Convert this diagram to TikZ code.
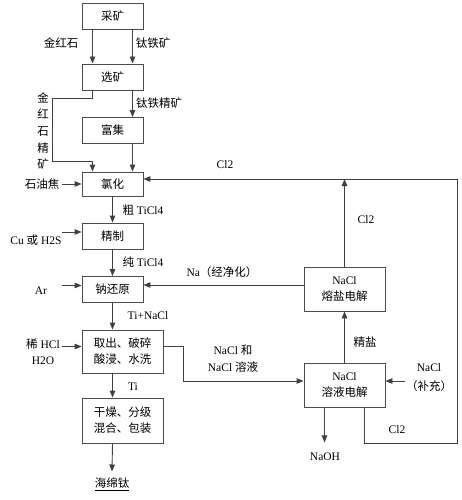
\documentclass[tikz,border=0pt]{standalone}
\usepackage{fontspec}
\setmainfont{Liberation Serif}
\newfontfamily\cjk{Noto Sans CJK SC}
\usetikzlibrary{positioning,calc,arrows.meta}

\tikzset{
  procbox/.style={draw=black!70, line width=0.9pt, minimum width=61pt, minimum height=26pt, inner sep=1pt, align=center},
  widebox/.style={procbox, minimum width=81pt, minimum height=44pt},
  arr/.style={draw=black!75, line width=0.9pt, -{Triangle[length=7pt,width=5.5pt]}},
  line/.style={draw=black!75, line width=0.9pt},
  lbl/.style={inner sep=0pt, align=center}
}

\begin{document}
\begin{tikzpicture}[x=1pt, y=-1pt, font=\fontsize{11.5}{16}\selectfont]
    \useasboundingbox (0,0) rectangle (462,500);

    % Main column
    \node [procbox] (caikuang) at (112.5,16) {\cjk 采矿};
    \node [procbox] (xuankuang) at (112.5,77) {\cjk 选矿};
    \node [procbox] (fuji) at (112.5,130.5) {\cjk 富集};
    \node [procbox, minimum height=24pt] (lvhua) at (112.5,184) {\cjk 氯化};
    \node [procbox] (jingzhi) at (112.5,236) {\cjk 精制};
    \node [procbox] (naReduce) at (112.5,289.5) {\cjk 钠还原};
    \node [widebox, minimum height=43pt] (quchu) at (122.5,351.5) {\cjk 取出、破碎\\\cjk 酸浸、水洗};
    \node [widebox, minimum height=45pt] (ganzao) at (122.5,420.5) {\cjk 干燥、分级\\\cjk 混合、包装};
    \node [lbl] (haimian) at (112,484) {\cjk\underline{海绵钛}};

    % Electrolysis
    \node [widebox] (rongyan) at (344.5,289) {NaCl\\\cjk 熔盐电解};
    \node [widebox] (rongye) at (344.5,385) {NaCl\\\cjk 溶液电解};

    % Labels
    \node [lbl] (jinhong) at (61,43) {\cjk 金红石};
    \node [lbl] (taitie) at (153,43) {\cjk 钛铁矿};
    \node [lbl, font=\fontsize{11.5}{16.7}\selectfont] (jinjing) at (43,131) {\cjk 金\\\cjk 红\\\cjk 石\\\cjk 精\\\cjk 矿};
    \node [lbl] (taijing) at (159,103) {\cjk 钛铁精矿};
    \node [lbl] (shiyou) at (42,184) {\cjk 石油焦};
    \node [lbl] (clTop) at (225,165) {Cl2};
    \node [lbl] (cuTicl) at (143,210) {{\cjk 粗} TiCl4};
    \node [lbl] (cuH) at (36,240) {Cu {\cjk 或} H2S};
    \node [lbl] (chunTicl) at (143,262) {{\cjk 纯} TiCl4};
    \node [lbl] (ar) at (41,291) {Ar};
    \node [lbl] (naJing) at (222,272) {Na{\cjk （经净化）}};
    \node [lbl] (clMid) at (366,220) {Cl2};
    \node [lbl] (tiNacl) at (148,316) {Ti+NaCl};
    \node [lbl] (hcl) at (43,344) {{\cjk 稀} HCl};
    \node [lbl] (water) at (43,361) {H2O};
    \node [lbl] (jingyan) at (365,342) {\cjk 精盐};
    \node [lbl] (naclHe) at (233,350) {NaCl {\cjk 和}};
    \node [lbl] (naclRong) at (233,367) {NaCl {\cjk 溶液}};
    \node [lbl] (naclBu) at (429,368) {NaCl};
    \node [lbl] (buchong) at (429,386) {\cjk （补充）};
    \node [lbl] (ti) at (133,387) {Ti};
    \node [lbl] (clBot) at (397,430) {Cl2};
    \node [lbl] (naoh) at (325,457) {NaOH};

    \coordinate (clTurn) at (457,443);
    \coordinate (bendTop) at (52,98);
    \coordinate (bendBot) at (52,161);
    \coordinate (clIn) at ([yshift=5]lvhua.east);

    % Ore line
    \draw [arr] ([xshift=-20]caikuang.south) -- ([xshift=-20]xuankuang.north);
    \draw [arr] ([xshift=20]caikuang.south) -- ([xshift=20]xuankuang.north);
    \draw [arr] ([xshift=20]xuankuang.south) -- ([xshift=20]fuji.north);
    \draw [arr] ([xshift=20]fuji.south) -- ([xshift=20]lvhua.north);
    \draw [arr] ([xshift=-20]xuankuang.south) |- (bendTop) -- (bendBot) -| ([xshift=-20]lvhua.north);

    % Inputs
    \draw [arr] ([xshift=-20]lvhua.west) -- (lvhua.west);
    \draw [arr] ([xshift=-20,yshift=4]jingzhi.west) -- ([yshift=4]jingzhi.west);
    \draw [arr] ([xshift=-20,yshift=4]naReduce.west) -- ([yshift=4]naReduce.west);
    \draw [arr] ([xshift=-20,yshift=5]quchu.west) -- ([yshift=5]quchu.west);

    % Down the column
    \draw [arr] (lvhua.south) -- (jingzhi.north);
    \draw [arr] (jingzhi.south) -- (naReduce.north);
    \draw [arr] (naReduce.south) -- (naReduce.south |- quchu.north);
    \draw [arr] (naReduce.south |- quchu.south) -- (naReduce.south |- ganzao.north);
    \draw [arr] (naReduce.south |- ganzao.south) -- ([yshift=6]haimian.north);

    % Recycle
    \draw [arr] ([yshift=5]quchu.east) -- ++(20,0) |- ([yshift=4]rongye.west);
    \draw [arr] ([xshift=20,yshift=4]rongye.east) -- ([yshift=4]rongye.east);
    \draw [arr] ([xshift=-20]rongye.south) -- ++(0,35);
    \draw [arr] (rongye.north) -- (rongyan.south);
    \draw [arr] ([yshift=4]rongyan.west) -- ([yshift=4]rongyan.west -| naReduce.east);
    \draw [arr] (rongyan.north) -- (rongyan.north |- clIn);
    \draw [arr] ([xshift=20]rongye.south) |- (clTurn) |- (clIn);
\end{tikzpicture}
\end{document}
